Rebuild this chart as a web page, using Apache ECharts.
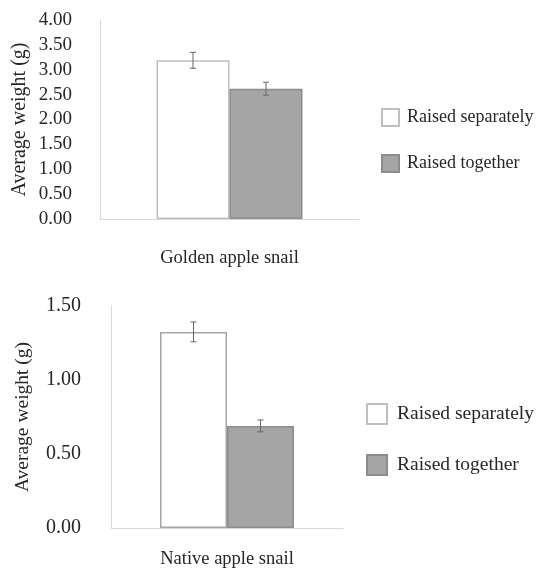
<!DOCTYPE html>
<html><head><meta charset="utf-8">
<script src="https://cdn.jsdelivr.net/npm/echarts@6/dist/echarts.min.js"></script>
<style>html,body{margin:0;padding:0;background:#fff}#c{width:539px;height:574px}</style>
</head><body><div id="c"></div>
<script>
const seriesNames = ['Raised separately', 'Raised together'];
const topCategory = ['Golden apple snail'];
const topSeparately = [3.19];
const topTogether = [2.62];
const topErr = [0.16, 0.13];
const bottomCategory = ['Native apple snail'];
const bottomSeparately = [1.325];
const bottomTogether = [0.69];
const bottomErr = [0.067, 0.04];
const topTicks = {min: 0, max: 4, interval: 0.5};
const bottomTicks = {min: 0, max: 1.5, interval: 0.5};

const FONT = '"Liberation Serif", "Times New Roman", serif';
const TXT = '#262626';
const AX = '#d9d9d9';
const topBarW = 73, botBarW = 67;

function errSeries(xi, yi, vals, errs, bw, color) {
  const data = vals.map((v, i) => [0, v, errs[i], i]);
  return {
    type: 'custom', xAxisIndex: xi, yAxisIndex: yi, z: 10, silent: true,
    data: data,
    renderItem: function (params, api) {
      const v = api.value(1), e = api.value(2), k = api.value(3);
      const c = api.coord([api.value(0), v]);
      const hi = api.coord([api.value(0), v + e]);
      const lo = api.coord([api.value(0), v - e]);
      const x = c[0] + (k === 0 ? -bw / 2 : bw / 2);
      const cap = 3;
      const st = {stroke: color, lineWidth: 1};
      return {type: 'group', children: [
        {type: 'line', shape: {x1: x, y1: hi[1], x2: x, y2: lo[1]}, style: st},
        {type: 'line', shape: {x1: x - cap, y1: hi[1], x2: x + cap, y2: hi[1]}, style: st},
        {type: 'line', shape: {x1: x - cap, y1: lo[1], x2: x + cap, y2: lo[1]}, style: st}
      ]};
    }
  };
}

const chart = echarts.init(document.getElementById('c'));
chart.setOption({
  animation: false,
  backgroundColor: '#fff',
  textStyle: {fontFamily: FONT, color: TXT},
  grid: [
    {left: 100, top: 20, width: 259, height: 199},
    {left: 111, top: 306, width: 232, height: 222}
  ],
  xAxis: [
    {type: 'category', gridIndex: 0, data: topCategory,
     axisLine: {lineStyle: {color: AX, width: 1}}, axisTick: {show: false},
     axisLabel: {fontFamily: FONT, fontSize: 18.5, color: TXT, margin: 30}},
    {type: 'category', gridIndex: 1, data: bottomCategory,
     axisLine: {lineStyle: {color: AX, width: 1}}, axisTick: {show: false},
     axisLabel: {fontFamily: FONT, fontSize: 18.5, color: TXT, margin: 22}}
  ],
  yAxis: [
    {type: 'value', gridIndex: 0, min: topTicks.min, max: topTicks.max, interval: topTicks.interval,
     name: 'Average weight (g)', nameLocation: 'middle', nameGap: 70, nameRotate: 90,
     nameTextStyle: {fontFamily: FONT, fontSize: 20, color: TXT},
     axisLine: {show: true, lineStyle: {color: AX, width: 1}}, axisTick: {show: false},
     splitLine: {show: false},
     axisLabel: {fontFamily: FONT, fontSize: 19, color: TXT, margin: 28, formatter: v => v.toFixed(2)}},
    {type: 'value', gridIndex: 1, min: bottomTicks.min, max: bottomTicks.max, interval: bottomTicks.interval,
     name: 'Average weight (g)', nameLocation: 'middle', nameGap: 78, nameRotate: 90,
     nameTextStyle: {fontFamily: FONT, fontSize: 19.5, color: TXT},
     axisLine: {show: true, lineStyle: {color: AX, width: 1}}, axisTick: {show: false},
     splitLine: {show: false},
     axisLabel: {fontFamily: FONT, fontSize: 20, color: TXT, margin: 30, formatter: v => v.toFixed(2)}}
  ],
  legend: [
    {orient: 'vertical', left: 381, top: 108, padding: 0, itemWidth: 17, itemHeight: 17, itemGap: 27,
     icon: 'rect', data: seriesNames,
     textStyle: {fontFamily: FONT, fontSize: 18, color: TXT, padding: [0, 0, 0, 3]}},
    {orient: 'vertical', left: 366, top: 403, padding: 0, itemWidth: 20, itemHeight: 20, itemGap: 29,
     icon: 'rect', data: seriesNames,
     textStyle: {fontFamily: FONT, fontSize: 19.5, color: TXT, padding: [0, 0, 0, 5]}}
  ],
  series: [
    {name: seriesNames[0], type: 'bar', xAxisIndex: 0, yAxisIndex: 0, data: topSeparately,
     barWidth: topBarW, barGap: '0%',
     itemStyle: {color: '#ffffff', borderColor: '#bfbfbf', borderWidth: 1.5}},
    {name: seriesNames[1], type: 'bar', xAxisIndex: 0, yAxisIndex: 0, data: topTogether,
     barWidth: topBarW, barGap: '0%',
     itemStyle: {color: '#a5a5a5', borderColor: '#8c8c8c', borderWidth: 1.5}},
    {name: seriesNames[0], type: 'bar', xAxisIndex: 1, yAxisIndex: 1, data: bottomSeparately,
     barWidth: botBarW, barGap: '0%',
     itemStyle: {color: '#ffffff', borderColor: '#a6a6a6', borderWidth: 1.5}},
    {name: seriesNames[1], type: 'bar', xAxisIndex: 1, yAxisIndex: 1, data: bottomTogether,
     barWidth: botBarW, barGap: '0%',
     itemStyle: {color: '#a5a5a5', borderColor: '#8c8c8c', borderWidth: 1.5}},
    errSeries(0, 0, [topSeparately[0], topTogether[0]], topErr, topBarW, '#666666'),
    errSeries(1, 1, [bottomSeparately[0], bottomTogether[0]], bottomErr, botBarW, '#666666')
  ]
});
</script></body></html>
